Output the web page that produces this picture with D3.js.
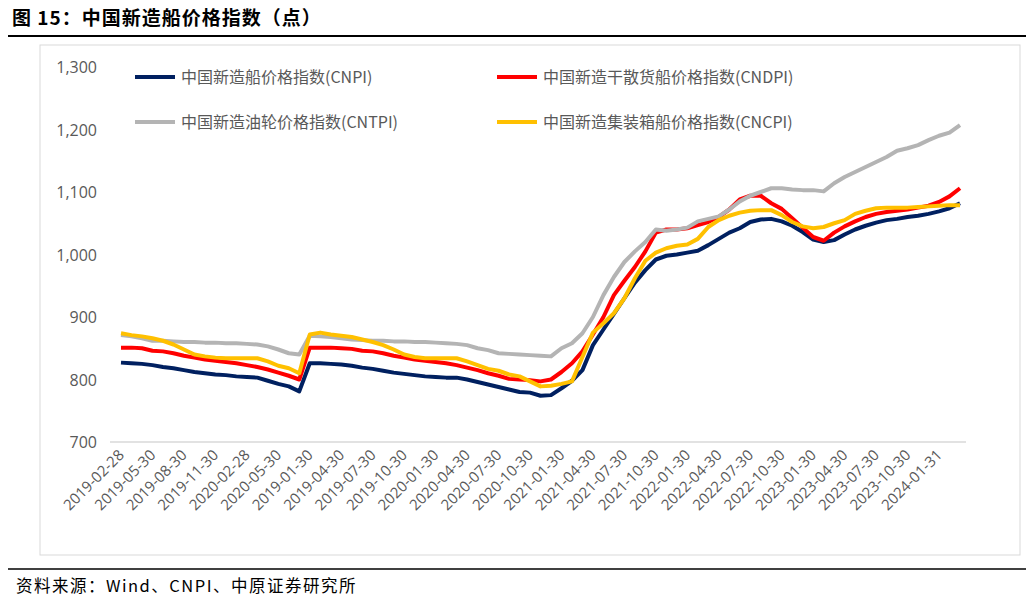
<!DOCTYPE html>
<html>
<head>
<meta charset="utf-8">
<script src="https://cdn.jsdelivr.net/npm/d3@7"></script>
<style>
  body { margin: 0; background: #fff; font-family: "Noto Sans CJK SC", "Noto Sans", sans-serif; }
</style>
</head>
<body>
<div id="chart"></div>
<script>
// tick labels, one every 3 months (as printed in the source)
var tickLabels = ["2019-02-28","2019-05-30","2019-08-30","2019-11-30","2020-02-28","2020-05-30",
  "2019-01-30","2019-04-30","2019-07-30","2019-10-30","2020-01-30","2020-04-30","2020-07-30",
  "2020-10-30","2021-01-30","2021-04-30","2021-07-30","2021-10-30","2022-01-30","2022-04-30",
  "2022-07-30","2022-10-30","2023-01-30","2023-04-30","2023-07-30","2023-10-30","2024-01-31"];

var cnpi = [827,826,825,823,820,818,815,812,810,808,807,805,804,803,798,793,789,781,
  826,826,825,824,822,819,817,814,811,809,807,805,804,803,803,800,796,792,788,784,780,779,774,775,
  786,798,815,855,880,905,930,955,975,992,998,1000,1003,1006,1015,1025,1035,1042,1052,1056,1057,1053,
  1046,1036,1024,1020,1023,1032,1040,1046,1051,1055,1057,1060,1062,1065,1069,1074,1082];
var cndpi = [851,851,850,846,845,842,838,835,832,830,828,826,823,820,816,811,806,800,
  851,851,851,850,849,846,845,842,838,835,832,830,828,826,823,819,815,810,806,801,800,799,797,800,
  812,826,845,872,900,935,958,980,1005,1035,1040,1040,1042,1047,1052,1060,1072,1088,1094,1094,1082,1073,
  1058,1043,1028,1022,1035,1045,1053,1060,1065,1068,1070,1072,1075,1078,1084,1093,1106];
var cntpi = [871,869,866,862,862,861,860,860,859,859,858,858,857,856,853,848,842,840,
  870,869,868,866,864,863,862,862,861,861,860,860,859,858,857,855,850,847,842,841,840,839,838,837,
  850,858,874,900,935,964,988,1005,1020,1040,1038,1040,1043,1053,1057,1061,1072,1085,1094,1100,1106,1106,
  1104,1103,1103,1101,1114,1124,1132,1140,1148,1156,1166,1170,1175,1183,1190,1195,1207];
var cncpi = [874,871,869,866,862,856,848,840,837,835,834,834,834,834,829,822,818,810,
  872,875,872,870,868,864,860,855,848,840,836,834,834,834,834,829,823,817,814,808,805,797,789,790,
  793,797,836,875,890,906,930,962,990,1003,1010,1014,1016,1025,1044,1055,1062,1067,1070,1071,1071,1063,
  1052,1045,1042,1044,1050,1055,1065,1070,1074,1075,1075,1075,1076,1077,1078,1079,1079];
var yTicks = [700,800,900,1000,1100,1200,1300];

var series = [
  {name: "中国新造船价格指数(CNPI)", values: cnpi, color: "#002060"},
  {name: "中国新造干散货船价格指数(CNDPI)", values: cndpi, color: "#ff0000"},
  {name: "中国新造油轮价格指数(CNTPI)", values: cntpi, color: "#b4b4b4"},
  {name: "中国新造集装箱船价格指数(CNCPI)", values: cncpi, color: "#ffc000"}
];

var W = 1031, H = 600;
var svg = d3.select("#chart").append("svg").attr("width", W).attr("height", H);

// title + rules
svg.append("text").attr("x", 12).attr("y", 25)
  .attr("font-size", 19).attr("font-weight", "bold").attr("fill", "#000")
  .attr("letter-spacing", 1)
  .text("图 15：中国新造船价格指数（点）");
svg.append("line").attr("x1", 8).attr("x2", 1026).attr("y1", 36).attr("y2", 36)
  .attr("stroke", "#000").attr("stroke-width", 2);
svg.append("rect").attr("x", 40).attr("y", 45).attr("width", 980).attr("height", 510)
  .attr("fill", "none").attr("stroke", "#d9d9d9");
svg.append("line").attr("x1", 8).attr("x2", 1026).attr("y1", 569).attr("y2", 569)
  .attr("stroke", "#000").attr("stroke-width", 1.5);
svg.append("text").attr("x", 16).attr("y", 592).attr("font-size", 16.5).attr("fill", "#000")
  .attr("letter-spacing", 1.5)
  .text("资料来源：Wind、CNPI、中原证券研究所");

var n = cnpi.length;
var x = d3.scaleLinear().domain([0, n - 1]).range([121, 960]);
var y = d3.scaleLinear().domain([700, 1300]).range([442, 67]);

var axisFont = "'Open Sans', 'Liberation Sans', sans-serif";

// y axis labels
svg.selectAll(".ytick").data(yTicks).enter().append("text")
  .attr("x", 97).attr("y", function(d){ return y(d) + 6; })
  .attr("text-anchor", "end").attr("font-size", 16).attr("fill", "#595959")
  .attr("font-family", axisFont)
  .text(function(d){ return d3.format(",")(d); });

// baseline
svg.append("line").attr("x1", 110).attr("x2", 966).attr("y1", y(700)).attr("y2", y(700))
  .attr("stroke", "#d9d9d9").attr("stroke-width", 1.5);

// x labels
svg.selectAll(".xtick").data(tickLabels).enter().append("text")
  .attr("transform", function(d, i){ return "translate(" + (x(i * 3) + 4) + "," + 456 + ") rotate(-45)"; })
  .attr("text-anchor", "end").attr("font-size", 15).attr("fill", "#595959")
  .attr("font-family", axisFont)
  .text(function(d){ return d; });

var line = d3.line().x(function(d, i){ return x(i); }).y(function(d){ return y(d); });

// draw order: navy, red, gray, yellow
[0, 1, 2, 3].forEach(function(k) {
  svg.append("path").datum(series[k].values)
    .attr("d", line).attr("fill", "none")
    .attr("stroke", series[k].color).attr("stroke-width", 4)
    .attr("stroke-linejoin", "round");
});

// legend
var legPos = [[135, 77], [497, 77], [135, 122], [497, 122]];
series.forEach(function(s, k) {
  var p = legPos[k];
  svg.append("line").attr("x1", p[0]).attr("x2", p[0] + 40).attr("y1", p[1]).attr("y2", p[1])
    .attr("stroke", s.color).attr("stroke-width", 4);
  svg.append("text").attr("x", p[0] + 46).attr("y", p[1] + 6)
    .attr("font-size", 16).attr("fill", "#595959").text(s.name);
});
</script>
</body>
</html>
